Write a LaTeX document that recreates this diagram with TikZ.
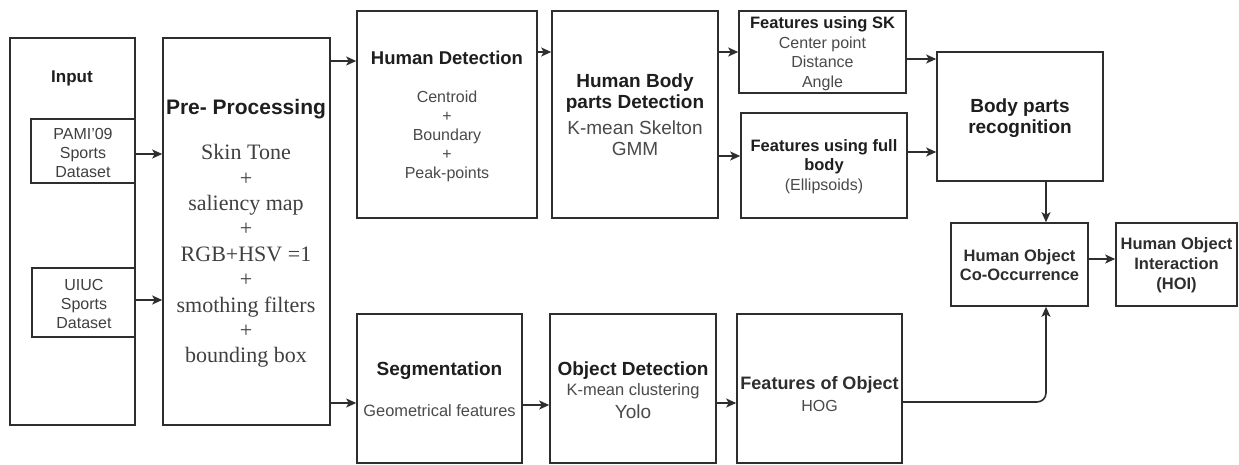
\documentclass[tikz,border=0pt]{standalone}
\usepackage{fontspec}
\setmainfont{Liberation Sans}
\newfontfamily\serifbody{Liberation Serif}
\usetikzlibrary{arrows.meta,calc}
\definecolor{linec}{HTML}{2E2E2E}
\definecolor{titc}{HTML}{1E1E1E}
\definecolor{bodc}{HTML}{4A4A4A}
\tikzset{
  box/.style={draw=linec, line width=1.6pt, fill=white, inner sep=0pt, rectangle},
  ttl/.style 2 args={text=titc, font=\bfseries\fontsize{#1}{#2}\selectfont, inner sep=0pt, align=center},
  bod/.style 2 args={text=bodc, font=\fontsize{#1}{#2}\selectfont, inner sep=0pt, align=center},
  arr/.style={draw=linec, line width=1.6pt, -{Stealth[length=10pt,width=9pt,inset=2.5pt]}}
}
\begin{document}
\begin{tikzpicture}[x=1pt,y=-1pt]
\useasboundingbox[fill=white] (0,0) rectangle (1239,464);

% boxes
\node[box, minimum width=125pt, minimum height=387pt] (input) at (72.5,231.5) {};
\node[box, minimum width=104pt, minimum height=64pt] (pami) at (83,151) {};
\node[box, minimum width=103pt, minimum height=69pt] (uiuc) at (83.5,302.5) {};
\node[box, minimum width=167pt, minimum height=387pt] (pre) at (246.5,231.5) {};
\node[box, minimum width=180pt, minimum height=207pt] (hd) at (447,114.5) {};
\node[box, minimum width=166pt, minimum height=207pt] (hbp) at (635,114.5) {};
\node[box, minimum width=167pt, minimum height=82pt] (fsk) at (822.5,52) {};
\node[box, minimum width=166pt, minimum height=105pt] (ffb) at (824,165.5) {};
\node[box, minimum width=166pt, minimum height=129pt] (bpr) at (1020,116.5) {};
\node[box, minimum width=137pt, minimum height=83pt] (hoc) at (1019.5,264.5) {};
\node[box, minimum width=121pt, minimum height=83pt] (hoi) at (1176.5,264.5) {};
\node[box, minimum width=165pt, minimum height=149pt] (seg) at (439.5,388.5) {};
\node[box, minimum width=166pt, minimum height=149pt] (od) at (633,388.5) {};
\node[box, minimum width=165pt, minimum height=149pt] (fo) at (819.5,388.5) {};

% texts
\node[ttl={17}{20}] (tin) at (72,78) {Input};
\node[bod={16}{19}, text=titc!85!white] (tpami) at (83,153) {PAMI'09\\Sports\\Dataset};
\node[bod={16}{19}, text=titc!85!white] (tuiuc) at (84,304) {UIUC\\Sports\\Dataset};
\node[ttl={21}{24}] (tpre) at (246,109) {Pre- Processing};
\node[text=titc!85!white, font=\serifbody\fontsize{22}{25.4}\selectfont, inner sep=0pt, align=center] (bpre) at (246,256)
  {Skin Tone\\+\\saliency map\\+\\RGB+HSV =1\\+\\smothing filters\\+\\bounding box};
\node[ttl={18.5}{21}] (thd) at (447,58) {Human Detection};
\node[bod={16}{19}] (bhd) at (447,136) {Centroid\\+\\Boundary\\+\\Peak-points};
\node[ttl={19}{21}] (thbp) at (635,93.5) {Human Body\\parts Detection};
\node[bod={19}{21}] (bhbp) at (635,138) {K-mean Skelton\\GMM};
\node[ttl={16.5}{19}] (tfsk) at (822.5,24) {Features using SK};
\node[bod={16}{19.5}] (bfsk) at (822.5,63.5) {Center point\\Distance\\Angle};
\node[ttl={16.5}{19}] (tffb) at (824,156.5) {Features using full\\body};
\node[bod={16}{19}] (bffb) at (824,186) {(Ellipsoids)};
\node[ttl={19}{21}] (tbpr) at (1020,118.5) {Body parts\\recognition};
\node[ttl={16.5}{19.5}, text=linec] (thoc) at (1019.5,265) {Human Object\\Co-Occurrence};
\node[ttl={16.5}{20}, text=linec] (thoi) at (1176.5,265.5) {Human Object\\Interaction\\(HOI)};
\node[ttl={19}{21}] (tseg) at (439.5,371) {Segmentation};
\node[bod={16.4}{19}] (bseg) at (439.5,411) {Geometrical features};
\node[ttl={19}{21}] (tod) at (633,371) {Object Detection};
\node[bod={16.5}{19}] (bod1) at (633,391) {K-mean clustering};
\node[bod={19}{21}] (bod2) at (633,412) {Yolo};
\node[ttl={18}{21}, text=linec] (tfo) at (819.5,385) {Features of Object};
\node[bod={16}{19}] (bfo) at (819.5,406) {HOG};

% connectors
\draw[arr] (pami.east |- 0,154) -- (pre.west |- 0,154);
\draw[arr] (uiuc.east |- 0,300) -- (pre.west |- 0,300);
\draw[arr] (pre.east |- 0,61) -- (hd.west |- 0,61);
\draw[arr] (pre.east |- 0,403) -- (seg.west |- 0,403);
\draw[arr] (hd.east |- 0,52) -- (hbp.west |- 0,52);
\draw[arr] (hbp.east |- 0,52) -- (fsk.west |- 0,52);
\draw[arr] (hbp.east |- 0,156) -- (ffb.west |- 0,156);
\draw[arr] (fsk.east |- 0,59) -- (bpr.west |- 0,59);
\draw[arr] (ffb.east |- 0,152) -- (bpr.west |- 0,152);
\draw[arr] (bpr.south -| 1046,0) -- (hoc.north -| 1046,0);
\draw[arr] (hoc.east |- 0,259) -- (hoi.west |- 0,259);
\draw[arr] (seg.east |- 0,405) -- (od.west |- 0,405);
\draw[arr] (od.east |- 0,403) -- (fo.west |- 0,403);
\draw[arr, rounded corners=9pt] (fo.east |- 0,402) -| (hoc.south -| 1046,0);
\end{tikzpicture}
\end{document}
